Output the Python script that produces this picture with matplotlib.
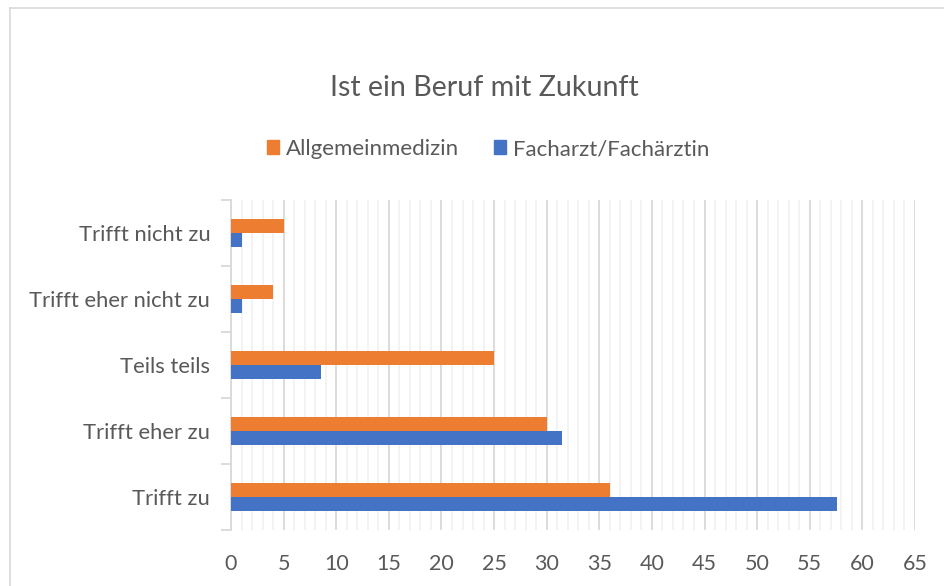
import matplotlib
matplotlib.use("Agg")
import matplotlib.pyplot as plt
from matplotlib.lines import Line2D
from matplotlib.ticker import MultipleLocator
import numpy as np

plt.rcParams['font.family'] = ['Lato', 'DejaVu Sans']

categories = ['Trifft zu', 'Trifft eher zu', 'Teils teils', 'Trifft eher nicht zu', 'Trifft nicht zu']
allgemein = [36, 30, 25, 4, 5]
facharzt = [57.6, 31.5, 8.6, 1, 1]
series_names = ['Allgemeinmedizin', 'Facharzt/Fachärztin']
xticks = list(range(0, 70, 5))

orange = '#ED7D31'
blue = '#4472C4'
text_col = '#595959'

fig = plt.figure(figsize=(9.44, 5.86), dpi=100)
ax = fig.add_axes([231/944, 56/586, 684/944, 330/586])

y = np.arange(len(categories))
h = 0.21
ax.barh(y + h/2, allgemein, height=h, color=orange, zorder=3)
ax.barh(y - h/2, facharzt, height=h, color=blue, zorder=3)

ax.set_xlim(0, 65)
ax.set_ylim(-0.5, len(categories) - 0.5)
ax.set_xticks(xticks)
ax.xaxis.set_minor_locator(MultipleLocator(1))
ax.grid(axis='x', which='major', color='#d9d9d9', lw=1.3, zorder=0)
ax.grid(axis='x', which='minor', color='#f2f2f2', lw=1.3, zorder=0)
ax.tick_params(axis='x', which='both', length=0, labelsize=15.5, labelcolor=text_col, pad=17)

ax.set_yticks(y)
ax.set_yticklabels(categories)
ax.set_yticks(np.arange(-0.5, len(categories), 1), minor=True)
ax.tick_params(axis='y', which='major', length=0, labelsize=15.8, labelcolor=text_col, pad=15)
ax.tick_params(axis='y', which='minor', length=7, color='#d9d9d9', width=1.3)

for s in ['top', 'right', 'bottom']:
    ax.spines[s].set_visible(False)
ax.spines['left'].set_color('#d9d9d9')
ax.spines['left'].set_linewidth(1.3)

fig.text(484/944, 1 - 88/586, 'Ist ein Beruf mit Zukunft', ha='center', va='center',
         fontsize=20.6, color=text_col)

handles = [plt.Rectangle((0, 0), 1, 1, color=orange), plt.Rectangle((0, 0), 1, 1, color=blue)]
fig.legend(handles, series_names, loc='center', bbox_to_anchor=(488/944, 1 - 149/586),
           ncol=2, frameon=False, fontsize=16, labelcolor=text_col,
           handlelength=0.55, handleheight=0.55, handletextpad=0.3, columnspacing=1.6)

# chart area border
fig.add_artist(Line2D([10/944, 10/944], [0, 1 - 8/586], transform=fig.transFigure, color='#d9d9d9', lw=1.2))
fig.add_artist(Line2D([10/944, 1], [1 - 8/586, 1 - 8/586], transform=fig.transFigure, color='#d9d9d9', lw=1.2))

fig.savefig('out.png', dpi=100)
